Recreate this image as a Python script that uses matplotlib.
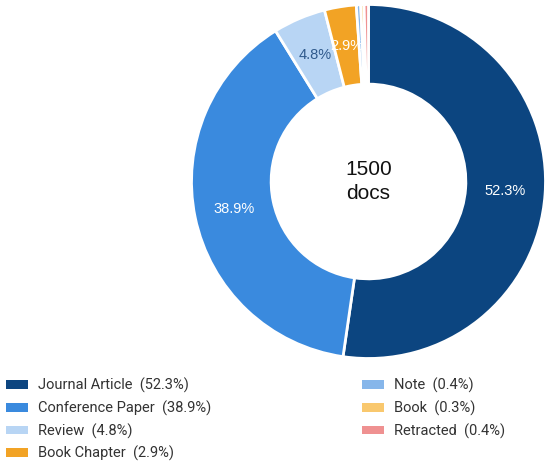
import matplotlib.pyplot as plt
from matplotlib.patches import Patch

# data
categories = ['Journal Article', 'Conference Paper', 'Review', 'Book Chapter',
              'Note', 'Book', 'Retracted']
shares = [52.3, 38.9, 4.8, 2.9, 0.4, 0.3, 0.4]
colors = ['#0c4580', '#3a8ade', '#b8d5f4', '#f2a325', '#86b6ea', '#f9c86e', '#ef9191']
label_colors = ['white', 'white', '#2f5a8c', 'white', 'white', 'white', 'white']
total_docs = 1500

W, H = 550, 463
fig = plt.figure(figsize=(W / 100, H / 100), dpi=100)

# donut axes, placed in pixels
cx, cy, r = 368.5, 181.5, 177
ax = fig.add_axes([(cx - r) / W, (H - cy - r) / H, 2 * r / W, 2 * r / H])

wedges, texts, autotexts = ax.pie(
    shares, colors=colors, startangle=90, counterclock=False,
    radius=1, pctdistance=0.775,
    autopct=lambda p: f'{p:.1f}%' if p >= 1 else '',
    wedgeprops=dict(width=0.45, edgecolor='white', linewidth=2),
    textprops=dict(family='Liberation Sans', fontsize=10.5))
for t, c in zip(autotexts, label_colors):
    t.set_color(c)

ax.text(0, 0, f'{total_docs}\ndocs', ha='center', va='center',
        family='Liberation Sans', fontsize=15, linespacing=1.35, color='#111111')
ax.set_xlim(-1, 1)
ax.set_ylim(-1, 1)
ax.axis('off')

# legend in two columns
handles = [Patch(facecolor=c, edgecolor='none') for c in colors]
labels = [f'{n}  ({s}%)' for n, s in zip(categories, shares)]

leg_kw = dict(frameon=False, loc='upper left', handlelength=1.5, handleheight=0.55,
              handletextpad=0.68, labelspacing=0.5, borderpad=0, borderaxespad=0,
              prop=dict(family='Roboto', size=10.5), labelcolor='#333333')
leg1 = fig.legend(handles[:4], labels[:4], bbox_to_anchor=(6 / W, 1 - 378 / H), **leg_kw)
leg2 = fig.legend(handles[4:], labels[4:], bbox_to_anchor=(362 / W, 1 - 378 / H), **leg_kw)

fig.savefig('out.png', dpi=100)
